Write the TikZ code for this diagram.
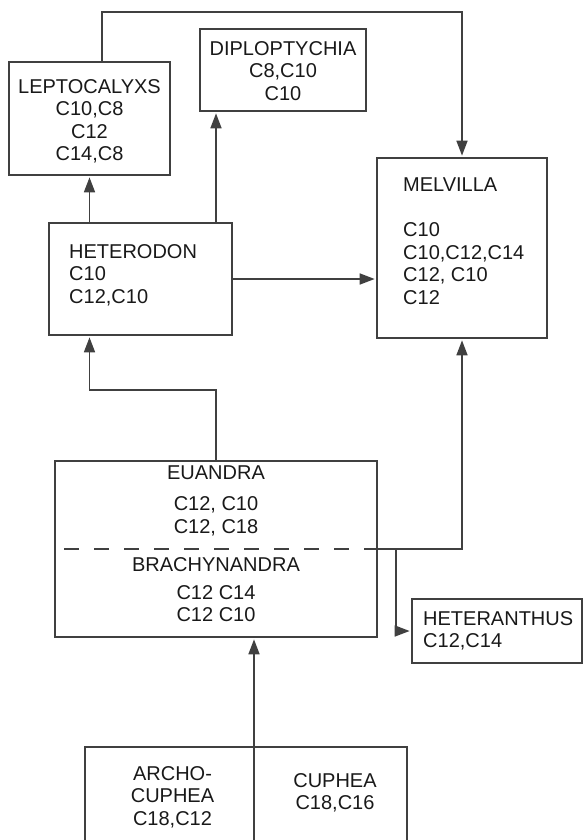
\documentclass[tikz,border=0pt]{standalone}
\usepackage{fontspec}
\setmainfont{Liberation Sans}
\usetikzlibrary{positioning,arrows.meta}

\begin{document}
\begin{tikzpicture}[x=1pt,y=-1pt,>={Triangle[length=15pt,width=11pt]}]
% ---- styles ----
\tikzstyle{genus}=[draw=black!75,line width=1.7pt,inner sep=0pt]
\tikzstyle{lbl}=[inner sep=0pt,text=black!90,font=\fontsize{20}{22.5}\selectfont]
\tikzstyle{link}=[->,draw=black!75,line width=1.7pt,shorten >=1.5pt]

\path[use as bounding box,clip] (0,0) rectangle (584,840);

% ---- boxes ----
\node[genus,minimum width=161pt,minimum height=113pt] (lepto) at (89.5,118.5) {};
\node[genus,minimum width=166pt,minimum height=82pt] (diplo) at (283,70) {};
\node[genus,minimum width=170pt,minimum height=180pt] (melvilla) at (462,248) {};
\node[genus,minimum width=183pt,minimum height=112pt] (heterodon) at (140.5,279) {};
\node[genus,minimum width=322pt,minimum height=176pt] (euandra) at (216,549) {};
\node[genus,minimum width=170pt,minimum height=64pt] (heteranthus) at (497,631) {};
\node[genus,minimum width=322pt,minimum height=120pt] (cuphea) at (246,807) {};

% ---- texts ----
\node[lbl,anchor=north,align=center] (leptoTxt) at (89.5,79)
  {LEPTOCALYXS\\C10,C8\\C12\\C14,C8};
\node[lbl,anchor=north,align=center] (diploTxt) at (283,41)
  {DIPLOPTYCHIA\\C8,C10\\C10};
\node[lbl,anchor=north west,align=left] (melvillaTxt) at (403,178)
  {MELVILLA\\[22.5pt]C10\\C10,C12,C14\\C12, C10\\C12};
\node[lbl,anchor=north west,align=left] (heterodonTxt) at (69,244)
  {HETERODON\\C10\\C12,C10};
\node[lbl,anchor=north,align=center] (euandraTxt) at (216,466)
  {EUANDRA\\[8.5pt]C12, C10\\C12, C18};
\node[lbl,anchor=north,align=center] (brachyTxt) at (216,557)
  {BRACHYNANDRA\\[5.5pt]C12 C14\\C12 C10};
\node[lbl,anchor=north west,align=left] (heteranthusTxt) at (423,611)
  {HETERANTHUS\\C12,C14};
\node[lbl,anchor=north,align=center] (archoTxt) at (172.5,766)
  {ARCHO-\\CUPHEA\\C18,C12};
\node[lbl,anchor=north,align=center] (cupheaTxt) at (335,773)
  {CUPHEA\\C18,C16};

% ---- subsection divider ----
\draw[draw=black!75,line width=1.7pt,dash pattern=on 15pt off 15pt]
  ([xshift=10pt]euandra.west) -- (euandra.east);

% ---- connectors ----
\coordinate (root) at ([xshift=8pt]cuphea.south);
\draw[link] (root) -- (root |- euandra.south);
\draw[link] (euandra.north) -- ++(0,-70) -| (heterodon.south -| lepto.south);
\draw[link] (euandra.east) -| (melvilla.south);
\draw[link] ([xshift=18pt]euandra.east) |- (heteranthus.west);
\draw[link] (heterodon.east) -- (heterodon.east -| melvilla.west);
\draw[link] (heterodon.north -| lepto.south) -- (lepto.south);
\draw[link] ([xshift=75.5pt]heterodon.north) -- ([xshift=75.5pt]heterodon.north |- diplo.south);
\draw[link] ([xshift=12.5pt]lepto.north) -- ++(0,-49) -| (melvilla.north);

\end{tikzpicture}
\end{document}
